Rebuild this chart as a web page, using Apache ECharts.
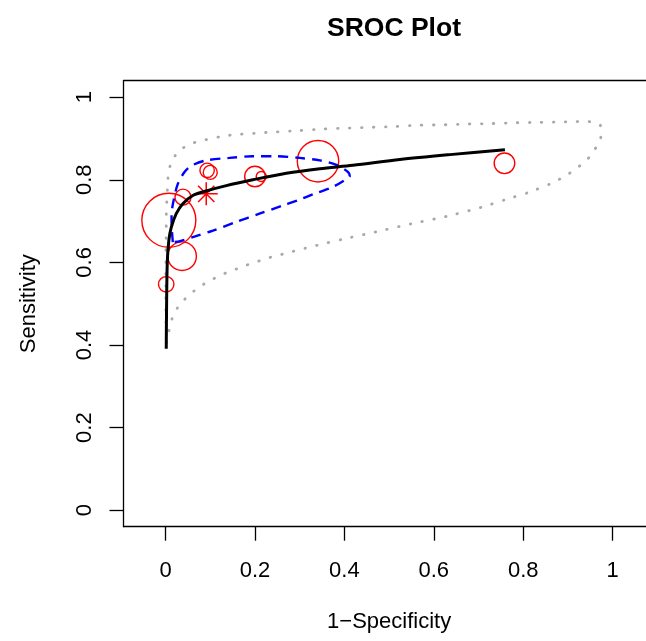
<!DOCTYPE html>
<html>
<head>
<meta charset="utf-8">
<script src="https://cdn.jsdelivr.net/npm/echarts@6/dist/echarts.min.js"></script>
<style>
html,body{margin:0;padding:0;background:#fff;}
#chart{width:646px;height:641px;}
</style>
</head>
<body>
<div id="chart"></div>
<script>
// ---- data ----
const tickValues = [0, 0.2, 0.4, 0.6, 0.8, 1];

const studyFpr  = [0.0074, 0.037, 0.0015, 0.039, 0.093, 0.100, 0.200, 0.214, 0.341, 0.758];
const studySens = [0.702, 0.615, 0.547, 0.758, 0.823, 0.818, 0.808, 0.808, 0.845, 0.840];
const studyWeight = [27, 14.3, 7.7, 8, 7.2, 7, 10.3, 5, 20.7, 10.3];

const summaryFpr = [0.091];
const summarySens = [0.766];

const srocFpr  = [0.0016, 0.0022, 0.0038, 0.0074, 0.0128, 0.024, 0.0387, 0.061, 0.091, 0.136, 0.195, 0.270, 0.345, 0.419, 0.524, 0.636, 0.759];
const srocSens = [0.391, 0.476, 0.597, 0.653, 0.685, 0.718, 0.742, 0.762, 0.773, 0.786, 0.800, 0.816, 0.827, 0.835, 0.849, 0.861, 0.873];

const confFpr  = [0.0163, 0.014, 0.0134, 0.018, 0.0275, 0.0425, 0.0575, 0.091, 0.143, 0.195, 0.248, 0.300, 0.345, 0.382, 0.408, 0.412, 0.403, 0.371, 0.330, 0.300, 0.263, 0.210, 0.158, 0.106, 0.061, 0.031, 0.0163];
const confSens = [0.649, 0.682, 0.714, 0.750, 0.790, 0.819, 0.834, 0.847, 0.853, 0.857, 0.857, 0.853, 0.847, 0.836, 0.819, 0.809, 0.801, 0.781, 0.765, 0.752, 0.738, 0.718, 0.698, 0.677, 0.661, 0.651, 0.649];

const predFpr  = [0.002, 0.0045, 0.009, 0.0163, 0.0298, 0.0477, 0.0687, 0.091, 0.114, 0.138, 0.164, 0.188, 0.214, 0.240, 0.266, 0.293, 0.319, 0.345, 0.396, 0.475, 0.552, 0.631, 0.708, 0.760, 0.811, 0.860, 0.884, 0.908, 0.929, 0.948, 0.963, 0.974, 0.972, 0.945, 0.918, 0.884, 0.831, 0.777, 0.724, 0.670, 0.616, 0.563, 0.510, 0.456, 0.402, 0.349, 0.298, 0.216, 0.136, 0.082, 0.055, 0.034, 0.0163, 0.0074, 0.0051, 0.0038, 0.0022, 0.0016, 0.0016, 0.001, 0.0007, 0.0007, 0.001, 0.002];
const predSens = [0.406, 0.415, 0.442, 0.469, 0.495, 0.516, 0.535, 0.551, 0.564, 0.576, 0.586, 0.596, 0.605, 0.614, 0.621, 0.629, 0.636, 0.643, 0.656, 0.675, 0.694, 0.712, 0.734, 0.752, 0.769, 0.790, 0.803, 0.819, 0.836, 0.855, 0.879, 0.906, 0.933, 0.941, 0.941, 0.940, 0.939, 0.938, 0.936, 0.935, 0.933, 0.932, 0.929, 0.927, 0.925, 0.923, 0.919, 0.914, 0.907, 0.895, 0.887, 0.873, 0.851, 0.823, 0.798, 0.766, 0.734, 0.707, 0.677, 0.641, 0.581, 0.508, 0.448, 0.406];

// ---- build ----
const zip = (a, b) => a.map((v, i) => [v, b[i]]);
const FONT = '"Liberation Sans", Arial, Helvetica, sans-serif';
const SIZE_SCALE = 2;
const AXIS_LINE = {show: true, onZero: false, lineStyle: {color: '#000', width: 1.3}};

const chart = echarts.init(document.getElementById('chart'), null, {renderer: 'canvas'});
chart.setOption({
  animation: false,
  backgroundColor: '#ffffff',
  textStyle: {fontFamily: FONT, color: '#000'},
  title: {
    text: 'SROC Plot',
    left: 389, top: 10, textAlign: 'center',
    textStyle: {fontFamily: FONT, fontSize: 26.5, fontWeight: 'bold', color: '#000'}
  },
  grid: {
    left: 123.5, top: 80.7, width: 531.2, height: 446,
    outerBoundsMode: 'none',
    show: false,
    containLabel: false
  },
  xAxis: [{
    type: 'value', min: -0.094, max: 1.094, position: 'bottom',
    name: '1\u2212Specificity', nameLocation: 'middle', nameGap: 84,
    nameTextStyle: {fontFamily: FONT, fontSize: 22, color: '#000'},
    axisLine: AXIS_LINE,
    splitLine: {show: false},
    axisTick: {show: true, inside: false, length: 14, customValues: tickValues, lineStyle: {color: '#000', width: 1.3}},
    axisLabel: {show: true, customValues: tickValues, margin: 33, fontFamily: FONT, fontSize: 22, color: '#000',
      formatter: v => String(v)}
  }, {
    type: 'value', min: -0.094, max: 1.094, position: 'top',
    axisLine: AXIS_LINE,
    splitLine: {show: false}, axisTick: {show: false}, axisLabel: {show: false}
  }],
  yAxis: {
    type: 'value', min: -0.04, max: 1.04, position: 'left',
    name: 'Sensitivity', nameLocation: 'middle', nameGap: 84, nameRotate: 90,
    nameTextStyle: {fontFamily: FONT, fontSize: 22, color: '#000'},
    axisLine: AXIS_LINE,
    splitLine: {show: false},
    axisTick: {show: true, inside: false, length: 14, customValues: tickValues, lineStyle: {color: '#000', width: 1.3}},
    axisLabel: {show: true, customValues: tickValues, rotate: 90, margin: 28, fontFamily: FONT, fontSize: 22, color: '#000',
      formatter: v => String(v)}
  },
  series: [
    {
      type: 'line', data: zip(predFpr, predSens), showSymbol: false, smooth: 0.2, silent: true,
      lineStyle: {color: '#A9A9A9', width: 2.8, type: [0.5, 11.5], cap: 'round'}
    },
    {
      type: 'line', data: zip(confFpr, confSens), showSymbol: false, smooth: 0.3, silent: true,
      lineStyle: {color: '#0000FF', width: 2.4, type: [10, 7]}
    },
    {
      type: 'scatter', data: studyFpr.map((x, i) => [x, studySens[i], studyWeight[i]]),
      symbol: 'circle', symbolSize: d => d[2] * SIZE_SCALE,
      itemStyle: {color: 'rgba(0,0,0,0)', borderColor: '#FF0000', borderWidth: 1.4, opacity: 1}
    },
    {
      type: 'line', data: zip(srocFpr, srocSens), showSymbol: false, smooth: 0.3, silent: true,
      lineStyle: {color: '#000000', width: 3}
    },
    {
      type: 'scatter', data: zip(summaryFpr, summarySens),
      symbol: 'path://M0,-1.414L0,1.414M-1.414,0L1.414,0M-1,-1L1,1M-1,1L1,-1',
      symbolSize: 23,
      itemStyle: {color: 'rgba(0,0,0,0)', borderColor: '#FF0000', borderWidth: 1.5, opacity: 1}
    }
  ]
});
</script>
</body>
</html>
